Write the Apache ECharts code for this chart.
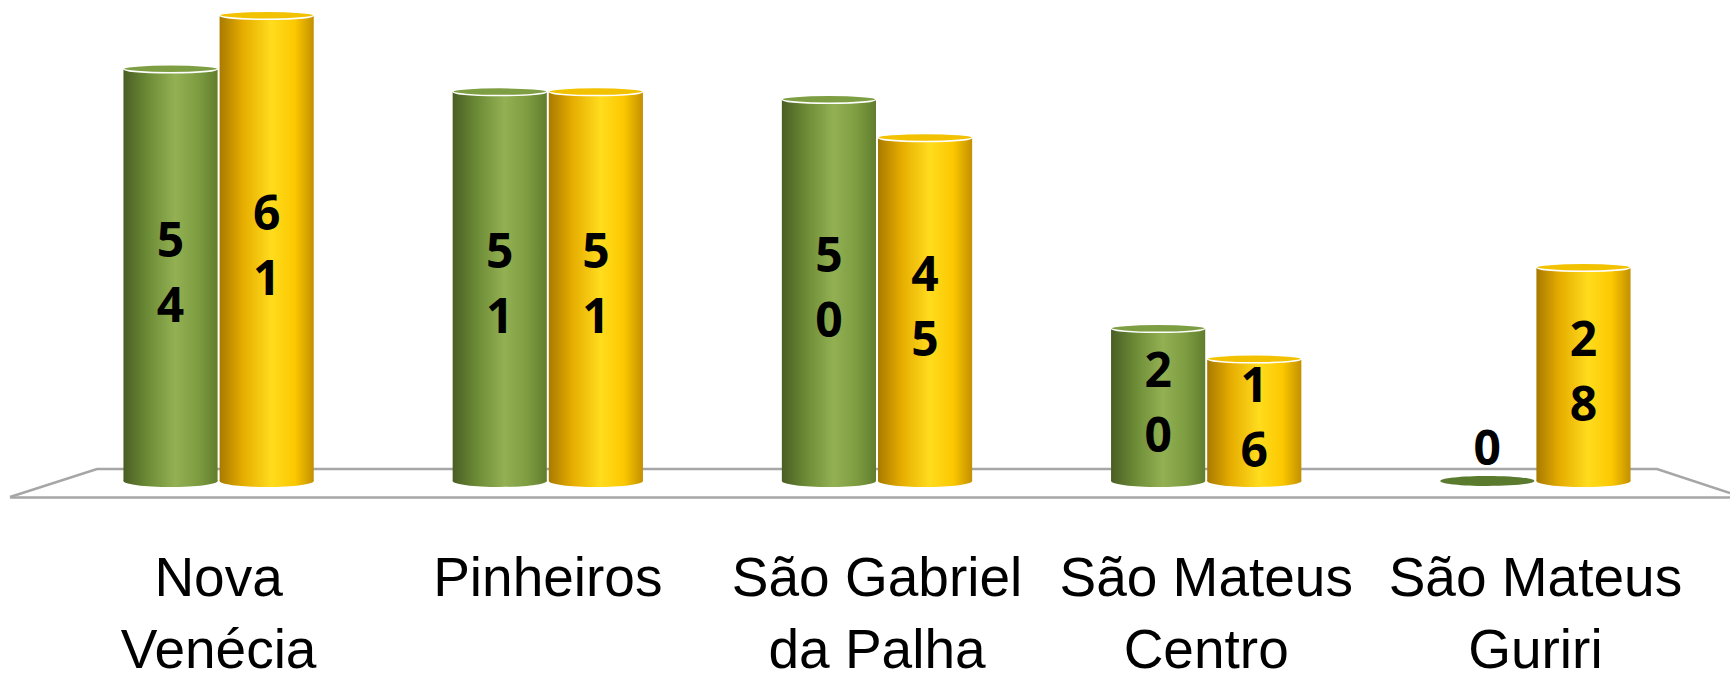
<!DOCTYPE html>
<html>
<head>
<meta charset="utf-8">
<script src="https://cdn.jsdelivr.net/npm/echarts@6/dist/echarts.min.js"></script>
<style>
  html, body { margin: 0; padding: 0; background: #fff; }
  #chart { width: 1730px; height: 681px; }
</style>
</head>
<body>
<div id="chart"></div>
<script>
const categories = ['Nova\nVenécia', 'Pinheiros', 'São Gabriel\nda Palha', 'São Mateus\nCentro', 'São Mateus\nGuriri'];
const greenValues = [54, 51, 50, 20, 0];
const goldValues = [61, 51, 45, 16, 28];

const greenStops = [
  { offset: 0, color: '#4a5e25' },
  { offset: 0.25, color: '#6b8a35' },
  { offset: 0.55, color: '#93b153' },
  { offset: 0.8, color: '#7d9c40' },
  { offset: 1, color: '#617d2e' }
];
const goldStops = [
  { offset: 0, color: '#a97a00' },
  { offset: 0.25, color: '#e6ad00' },
  { offset: 0.55, color: '#ffdc1e' },
  { offset: 0.8, color: '#fcc800' },
  { offset: 1, color: '#c39000' }
];

function cylinder(side, stops, topColor, flatColor) {
  return function (params, api) {
    const idx = api.value(0);
    const val = api.value(1);
    const base = api.coord([idx, 0]);
    const top = api.coord([idx, val]);
    const catW = api.size([1, 0])[0];
    const w = catW * 0.286;
    const cx = base[0] + side * (w / 2 + 1);
    const x0 = cx - w / 2;
    const grad = new echarts.graphic.LinearGradient(0, 0, 1, 0, stops);
    const children = [];
    if (val === 0) {
      // flat disc for an empty bar, value written above it
      children.push({
        type: 'ellipse',
        shape: { cx: cx, cy: base[1], rx: w / 2, ry: 5 },
        style: { fill: flatColor }
      });
      children.push({
        type: 'text',
        style: {
          text: '0', x: cx, y: base[1] - 35, align: 'center', verticalAlign: 'middle',
          fontFamily: 'Noto Sans', fontWeight: 'bold', fontSize: 48, fill: '#000'
        }
      });
    } else {
      children.push({
        type: 'ellipse',
        shape: { cx: cx, cy: base[1], rx: w / 2, ry: 6 },
        style: { fill: grad }
      });
      children.push({
        type: 'rect',
        shape: { x: x0, y: top[1], width: w, height: base[1] - top[1] },
        style: { fill: grad }
      });
      children.push({
        type: 'ellipse',
        shape: { cx: cx, cy: top[1], rx: w / 2, ry: 4 },
        style: { fill: topColor, stroke: '#ffffff', lineWidth: 1.5 }
      });
      children.push({
        type: 'text',
        style: {
          text: String(val).split('').join('\n'),
          x: cx, y: (top[1] + base[1]) / 2 - 4,
          align: 'center', verticalAlign: 'middle',
          fontFamily: 'Noto Sans', fontWeight: 'bold', fontSize: 48, lineHeight: 65, fill: '#000'
        }
      });
    }
    return { type: 'group', children: children };
  };
}

const chart = echarts.init(document.getElementById('chart'), null, { renderer: 'svg' });
chart.setOption({
  animation: false,
  grid: { left: 54, right: 30, top: 0, bottom: 200, outerBoundsMode: 'none', containLabel: false },
  xAxis: {
    type: 'category',
    data: categories,
    axisLine: { show: false },
    axisTick: { show: false },
    axisLabel: {
      margin: 60,
      color: '#000',
      fontFamily: 'Liberation Sans',
      fontSize: 55,
      lineHeight: 72,
      interval: 0
    }
  },
  yAxis: { type: 'value', min: 0, max: 63, show: false, splitLine: { show: false } },
  graphic: [
    {
      type: 'polyline', z: -10,
      shape: { points: [[10, 497], [97, 469], [1657, 469], [1730, 493]] },
      style: { stroke: '#a6a6a6', lineWidth: 2.5, fill: null }
    },
    {
      type: 'line', z: -10,
      shape: { x1: 10, y1: 497.5, x2: 1730, y2: 497.5 },
      style: { stroke: '#a6a6a6', lineWidth: 2.5 }
    }
  ],
  series: [
    {
      type: 'custom',
      name: 'green',
      renderItem: cylinder(-1, greenStops, '#7e9e44', '#5a7a2e'),
      encode: { x: 0, y: 1 },
      data: greenValues.map(function (v, i) { return [i, v]; })
    },
    {
      type: 'custom',
      name: 'gold',
      renderItem: cylinder(1, goldStops, '#f2c200', '#e0a800'),
      encode: { x: 0, y: 1 },
      data: goldValues.map(function (v, i) { return [i, v]; })
    }
  ]
});
</script>
</body>
</html>
